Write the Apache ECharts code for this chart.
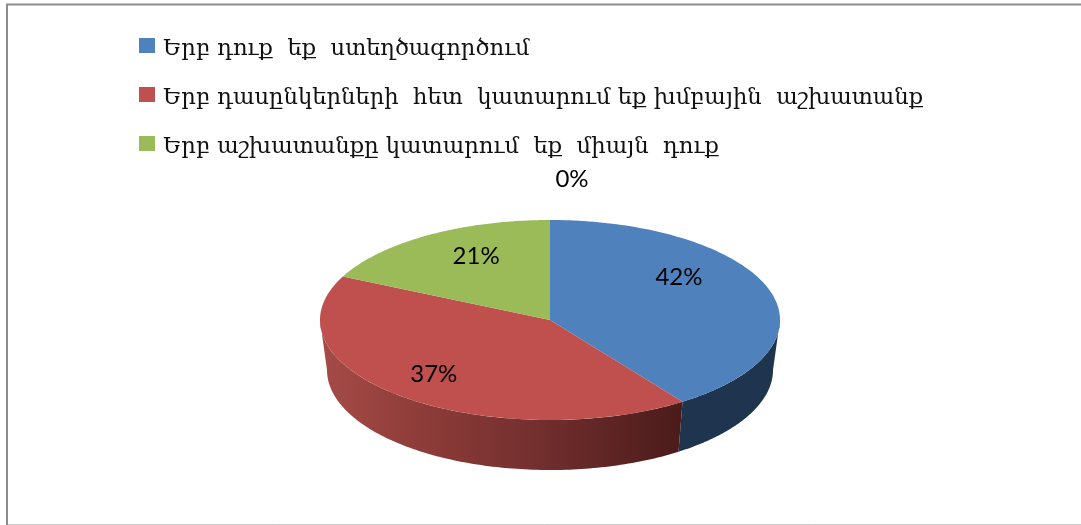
<!DOCTYPE html>
<html>
<head>
<meta charset="utf-8">
<title>chart</title>
<script src="https://cdn.jsdelivr.net/npm/echarts@6/dist/echarts.min.js"></script>
<style>
  html, body { margin: 0; padding: 0; background: #fff; }
  #chart { width: 1081px; height: 525px; }
</style>
</head>
<body>
<div id="chart"></div>
<script>
const categories = [
  'Երբ դուք  եք  ստեղծագործում',
  'Երբ դասընկերների  հետ  կատարում եք խմբային  աշխատանք',
  'Երբ աշխատանքը կատարում  եք  միայն  դուք',
  ''
]
const sliceValues = [42, 37, 21, 0]

const topColors = ['#4f81bd', '#c0504d', '#9bbb59', '#8064a2']
const labelNudge = [[-7, -24], [-24, 7], [2, -11], [22, -79]]

// pie layout, the reference is a tilted pie with perspective
const pie = { cx: 550, cy: 320, rx: 230, ry: 100, bottomCy: 370, bottomRx: 223 }
const perspective = 1.235

const sideFills = [
  '#1f344f',
  {
    type: 'linear', x: 320, y: 0, x2: 684, y2: 0, global: true,
    colorStops: [
      { offset: 0, color: '#a64b47' },
      { offset: 0.3, color: '#8c3b38' },
      { offset: 0.6, color: '#722f2e' },
      { offset: 1, color: '#4a1b1a' }
    ]
  },
  'transparent',
  'transparent'
]

// percent of the pie -> angle on the screen ellipse, clockwise from the top
function warp(pct) {
  const deg = pct * 3.6
  if (deg <= 0) return 0
  if (deg >= 360) return 2 * Math.PI
  const a = (deg - 180) * Math.PI / 180
  return Math.PI + 2 * Math.atan(perspective * Math.tan(a / 2))
}

function onTop(t, scale) {
  return [pie.cx + pie.rx * scale * Math.sin(t), pie.cy - pie.ry * scale * Math.cos(t)]
}

function onBottom(t) {
  return [pie.cx + pie.bottomRx * Math.sin(t), pie.bottomCy - pie.ry * Math.cos(t)]
}

function arc(a, b, fn) {
  const pts = []
  const n = 120
  for (let i = 0; i <= n; i++) {
    pts.push(fn(a + (b - a) * i / n))
  }
  return pts
}

function renderSlice(index) {
  return function (params, api) {
    const a = warp(api.value(0))
    const b = warp(api.value(1))
    const children = []

    // side wall, only the front half of the pie shows it
    const wallA = Math.max(a, Math.PI / 2)
    const wallB = Math.min(b, Math.PI * 3 / 2)
    if (wallB > wallA) {
      children.push({
        type: 'polygon',
        shape: { points: arc(wallA, wallB, t => onTop(t, 1)).concat(arc(wallA, wallB, onBottom).reverse()) },
        style: { fill: sideFills[index] }
      })
    }

    if (b > a) {
      children.push({
        type: 'polygon',
        shape: { points: [[pie.cx, pie.cy]].concat(arc(a, b, t => onTop(t, 1))) },
        style: { fill: topColors[index] }
      })
    }

    const mid = onTop((a + b) / 2, 0.62)
    children.push({
      type: 'text',
      x: mid[0] + labelNudge[index][0],
      y: mid[1] + labelNudge[index][1],
      z2: 10,
      style: {
        text: api.value(2) + '%',
        font: '24px Lato',
        fill: '#000',
        align: 'center',
        verticalAlign: 'middle'
      }
    })

    return { type: 'group', children: children }
  }
}

let running = 0
const series = sliceValues.map((v, i) => {
  const start = running
  running += v
  return {
    type: 'custom',
    name: categories[i],
    coordinateSystem: 'none',
    renderItem: renderSlice(i),
    itemStyle: { color: topColors[i] },
    silent: true,
    data: [[start, running, v]]
  }
})

const chart = echarts.init(document.getElementById('chart'))

chart.setOption({
  animation: false,
  backgroundColor: '#fff',
  legend: {
    data: categories.slice(0, 3),
    orient: 'vertical',
    left: 139,
    top: 36.5,
    padding: 0,
    itemWidth: 16,
    itemHeight: 23,
    itemGap: 23,
    // square sits at the top of the icon box so the text lands a bit lower, like the reference
    icon: 'path://M0 0h16v15h-16z M0 22.9h0.01v0.1h-0.01z',
    selectedMode: false,
    textStyle: {
      fontFamily: 'DejaVu Serif',
      fontSize: 22.7,
      lineHeight: 26,
      color: '#111',
      padding: [0, 0, 0, 3]
    }
  },
  graphic: [
    { type: 'line', shape: { x1: 6, y1: 4.5, x2: 1081, y2: 4.5 }, style: { stroke: '#8c8c8c', lineWidth: 2 } },
    { type: 'line', shape: { x1: 7, y1: 4, x2: 7, y2: 525 }, style: { stroke: '#8c8c8c', lineWidth: 2 } },
    { type: 'line', shape: { x1: 8, y1: 524.5, x2: 1081, y2: 524.5 }, style: { stroke: '#cccccc', lineWidth: 1 } }
  ],
  series: series
})
</script>
</body>
</html>
